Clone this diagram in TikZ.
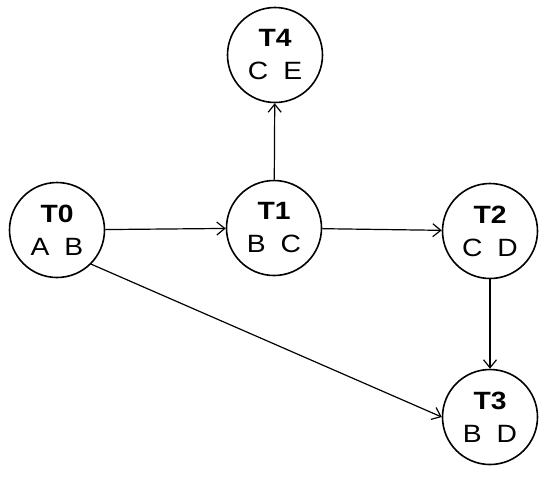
\documentclass[tikz,border=0pt]{standalone}
\usepackage{fontspec}
\setmainfont{Liberation Sans}[FakeStretch=1.13]
\usepackage{tikz}
\usetikzlibrary{arrows.meta,positioning}

\begin{document}
\begin{tikzpicture}[
    x=0.5pt, y=-0.5pt,
    task/.style={circle, draw, line width=0.8pt, minimum size=47.5pt, inner sep=0pt, align=center, font=\fontsize{12.5}{16.5}\selectfont},
    arrow/.style={-{Straight Barb[length=4pt,width=6.5pt]}, line width=0.6pt}
]
    \useasboundingbox (0,0) rectangle (550,478);

    % Tasks with their items
    \node[task] (t0) at (57,230) {\textbf{T0}\\A\hspace{0.6em}B};
    \node[task] (t1) at (274,228) {\textbf{T1}\\B\hspace{0.6em}C};
    \node[task] (t2) at (490,231) {\textbf{T2}\\C\hspace{0.6em}D};
    \node[task] (t3) at (490,417) {\textbf{T3}\\B\hspace{0.6em}D};
    \node[task] (t4) at (275,55) {\textbf{T4}\\C\hspace{0.6em}E};

    % Dependencies
    \draw[arrow] (t0) -- (t1);
    \draw[arrow] (t1) -- (t2);
    \draw[arrow] (t1) -- (t4);
    \draw[arrow] (t2) -- (t3);
    \draw[arrow] (t0.south east) -- (t3.west);

\end{tikzpicture}
\end{document}
